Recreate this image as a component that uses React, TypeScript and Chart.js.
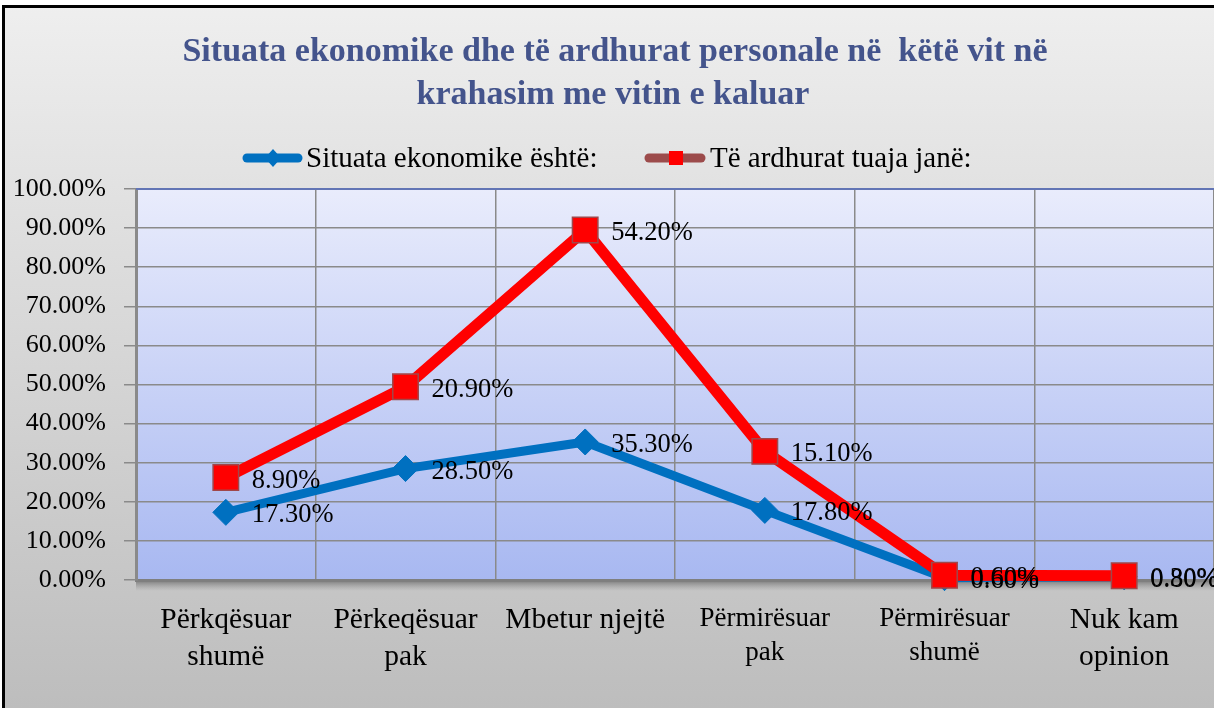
import React, { useEffect, useRef } from "react";
import { Chart, registerables } from "chart.js";

Chart.register(...registerables);

const categories: (string | string[])[] = [
  ["Përkqësuar", "shumë"],
  ["Përkeqësuar", "pak"],
  "Mbetur njejtë",
  ["Përmirësuar", "pak"],
  ["Përmirësuar", "shumë"],
  ["Nuk kam", "opinion"],
];
const economySeries = [17.3, 28.5, 35.3, 17.8, 0.6, 0.8];
const incomeSeries = [8.9, 20.9, 54.2, 15.1, 0.6, 0.3];
const seriesNames = ["Situata ekonomike është:", "Të ardhurat tuaja janë:"];
const titleLines = [
  "Situata ekonomike dhe të ardhurat personale në  këtë vit në",
  "krahasim me vitin e kaluar",
];

const SERIF = "'Liberation Serif', 'Times New Roman', serif";
const BLUE = "#0070c0";
const RED = "#ff0000";

const decorPlugin = {
  id: "decor",
  beforeDraw(chart: any) {
    const { ctx, width, height, chartArea } = chart;
    ctx.save();
    ctx.fillStyle = "#ffffff";
    ctx.fillRect(0, 0, width, height);
    const g = ctx.createLinearGradient(0, 0, 0, height);
    g.addColorStop(0, "#efefef");
    g.addColorStop(1, "#bdbdbd");
    ctx.fillStyle = g;
    ctx.fillRect(4, 7, width, height);
    ctx.fillStyle = "#000";
    ctx.fillRect(2, 5, 3, height);
    ctx.fillRect(2, 5, width, 3);
    // plot area
    const pg = ctx.createLinearGradient(0, chartArea.top, 0, chartArea.bottom);
    pg.addColorStop(0, "#e9ecfc");
    pg.addColorStop(1, "#a8b8f1");
    ctx.fillStyle = pg;
    ctx.fillRect(chartArea.left, chartArea.top, chartArea.right - chartArea.left, chartArea.bottom - chartArea.top);
    // shadow below x axis
    const sg = ctx.createLinearGradient(0, chartArea.bottom, 0, chartArea.bottom + 11);
    sg.addColorStop(0, "rgba(110,110,110,0.9)");
    sg.addColorStop(1, "rgba(150,150,150,0)");
    ctx.fillStyle = sg;
    ctx.fillRect(chartArea.left, chartArea.bottom, chartArea.right - chartArea.left, 11);

    // title
    ctx.fillStyle = "#44548c";
    ctx.font = `bold 34px ${SERIF}`;
    ctx.textAlign = "center";
    ctx.textBaseline = "middle";
    ctx.fillText(titleLines[0], 615, 52);
    ctx.fillText(titleLines[1], 613, 95);

    // legend
    ctx.textAlign = "left";
    ctx.font = `29px ${SERIF}`;
    ctx.lineCap = "round";
    // blue
    ctx.strokeStyle = BLUE;
    ctx.lineWidth = 9;
    ctx.beginPath();
    ctx.moveTo(247, 158);
    ctx.lineTo(298, 158);
    ctx.stroke();
    ctx.fillStyle = BLUE;
    ctx.beginPath();
    ctx.moveTo(273, 149);
    ctx.lineTo(281, 158);
    ctx.lineTo(273, 167);
    ctx.lineTo(265, 158);
    ctx.closePath();
    ctx.fill();
    ctx.fillStyle = "#000";
    ctx.fillText(seriesNames[0], 306, 159);
    // red
    ctx.strokeStyle = "#9c4b4b";
    ctx.beginPath();
    ctx.moveTo(649, 158);
    ctx.lineTo(701, 158);
    ctx.stroke();
    ctx.fillStyle = RED;
    ctx.fillRect(669, 151, 14, 14);
    ctx.fillStyle = "#000";
    ctx.fillText(seriesNames[1], 710, 159);
    ctx.restore();
  },
  beforeDatasetDraw(chart: any, args: any) {
    if (args.index === 1) return false;
  },
  afterDatasetsDraw(chart: any) {
    const { ctx, chartArea } = chart;
    chart.getDatasetMeta(1).controller.draw();
    ctx.save();
    ctx.strokeStyle = "#6275b5";
    ctx.lineWidth = 2;
    ctx.beginPath();
    ctx.moveTo(chartArea.left, chartArea.top);
    ctx.lineTo(chartArea.right, chartArea.top);
    ctx.stroke();
    ctx.fillStyle = "#000";
    ctx.font = `26.5px ${SERIF}`;
    ctx.textAlign = "left";
    ctx.textBaseline = "middle";
    [0, 1].forEach((di) => {
      const meta = chart.getDatasetMeta(di);
      const vals = chart.data.datasets[di].data as number[];
      meta.data.forEach((pt: any, i: number) => {
        ctx.fillText(vals[i].toFixed(2) + "%", pt.x + 26, pt.y + 3);
      });
    });
    ctx.restore();
  },
};

export default function App() {
  const ref = useRef<HTMLCanvasElement | null>(null);
  useEffect(() => {
    document.body.style.margin = "0";
    document.body.style.overflow = "hidden";
    const chart = new Chart(ref.current as HTMLCanvasElement, {
      type: "line",
      data: {
        labels: categories,
        datasets: [
          {
            label: seriesNames[0],
            data: economySeries,
            borderColor: BLUE,
            backgroundColor: BLUE,
            borderWidth: 9,
            pointStyle: "rectRot",
            pointRadius: 13,
            pointBackgroundColor: BLUE,
            pointBorderColor: BLUE,
            pointBorderWidth: 1,
            tension: 0,
            fill: false,
            clip: false as any,
          },
          {
            label: seriesNames[1],
            data: incomeSeries,
            borderColor: RED,
            backgroundColor: RED,
            borderWidth: 11,
            pointStyle: "rect",
            pointRadius: 18,
            pointBackgroundColor: RED,
            pointBorderColor: "#a0474a",
            pointBorderWidth: 1.5,
            tension: 0,
            fill: false,
            clip: false as any,
          },
        ],
      },
      options: {
        responsive: false,
        animation: false,
        events: [],
        layout: { autoPadding: false, padding: { top: 189, left: 0, right: 0, bottom: 0 } },
        plugins: {
          legend: { display: false },
          title: { display: false },
          tooltip: { enabled: false },
        },
        scales: {
          x: {
            offset: true,
            grid: { offset: true, color: "#8a8a8a", lineWidth: 1.5, drawTicks: false },
            border: { color: "#7f7f7f", width: 3 },
            ticks: {
              color: "#000",
              padding: 22,
              maxRotation: 0,
              autoSkip: false,
              font: (c: any) => ({
                family: SERIF,
                size: c.index === 3 || c.index === 4 ? 27 : 29.5,
                lineHeight: 1.25,
              }),
            },
            afterFit: (s: any) => {
              s.height = 708 - 580;
              s.paddingLeft = 0;
              s.paddingRight = 0;
            },
          },
          y: {
            stacked: true,
            min: 0,
            max: 100,
            grid: { color: "#8a8a8a", lineWidth: 1.5, tickLength: 12 },
            border: { color: "#8a8a8a", width: 3 },
            ticks: {
              stepSize: 10,
              color: "#000",
              padding: 18,
              font: { family: SERIF, size: 26 },
              callback: (v: any) => Number(v).toFixed(2) + "%",
            },
            afterFit: (s: any) => {
              s.width = 136;
            },
          },
        },
      },
      plugins: [decorPlugin],
    });
    return () => chart.destroy();
  }, []);
  return (
    <div style={{ position: "fixed", left: 0, top: 0, width: 1214, height: 708 }}>
      <canvas ref={ref} width={1214} height={708} />
    </div>
  );
}
